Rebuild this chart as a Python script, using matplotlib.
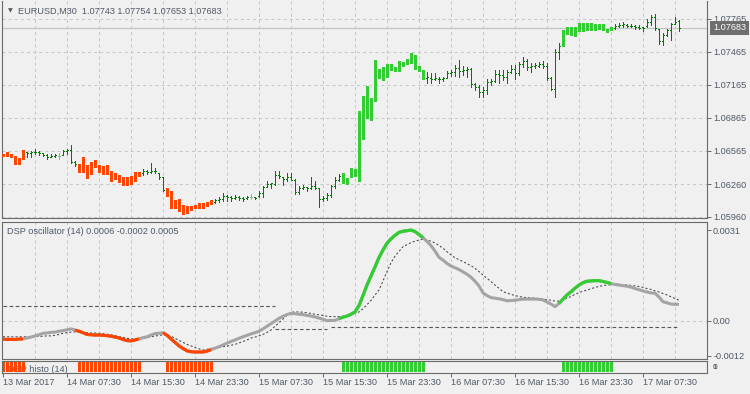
import matplotlib
matplotlib.use("Agg")
import matplotlib.pyplot as plt
from matplotlib.transforms import blended_transform_factory


# =========================
# Data (EURUSD M30)
# =========================

open_ = [
    1.06525, 1.06520, 1.06525, 1.06505, 1.06445, 1.06480, 1.06550, 1.06540, 1.06550, 1.06550,
    1.06540, 1.06525, 1.06510, 1.06520, 1.06515, 1.06525, 1.06560, 1.06570, 1.06465, 1.06440,
    1.06380, 1.06420, 1.06350, 1.06420, 1.06420, 1.06380, 1.06380, 1.06360, 1.06300, 1.06310,
    1.06290, 1.06260, 1.06260, 1.06300, 1.06350, 1.06360, 1.06380, 1.06370, 1.06380, 1.06360,
    1.06320, 1.06210, 1.06150, 1.06080, 1.06060, 1.06030, 1.06000, 1.06030, 1.06040, 1.06050,
    1.06060, 1.06070, 1.06080, 1.06100, 1.06110, 1.06120, 1.06150, 1.06140, 1.06130, 1.06140,
    1.06130, 1.06130, 1.06145, 1.06140, 1.06150, 1.06180, 1.06230, 1.06260, 1.06260, 1.06340,
    1.06325, 1.06310, 1.06320, 1.06300, 1.06190, 1.06220, 1.06230, 1.06220, 1.06240, 1.06220,
    1.06120, 1.06130, 1.06160, 1.06240, 1.06300, 1.06330, 1.06270, 1.06320, 1.06390, 1.06330,
    1.06900, 1.06870, 1.07040, 1.07010, 1.07300, 1.07250, 1.07300, 1.07330, 1.07300, 1.07300,
    1.07350, 1.07360, 1.07380, 1.07400, 1.07320, 1.07300, 1.07230, 1.07230, 1.07220, 1.07220,
    1.07220, 1.07230, 1.07270, 1.07280, 1.07320, 1.07290, 1.07300, 1.07310, 1.07170, 1.07140,
    1.07100, 1.07120, 1.07190, 1.07200, 1.07260, 1.07250, 1.07240, 1.07280, 1.07310, 1.07270,
    1.07350, 1.07380, 1.07330, 1.07340, 1.07340, 1.07350, 1.07340, 1.07230, 1.07130, 1.07460,
    1.07520, 1.07650, 1.07640, 1.07660, 1.07680, 1.07700, 1.07700, 1.07700, 1.07700, 1.07690,
    1.07690, 1.07675, 1.07660, 1.07680, 1.07700, 1.07710, 1.07710, 1.07700, 1.07700, 1.07690,
    1.07690, 1.07700, 1.07740, 1.07780, 1.07670, 1.07560, 1.07620, 1.07660, 1.07720, 1.07743,
]

high = [
    1.06534, 1.06552, 1.06534, 1.06516, 1.06497, 1.06570, 1.06552, 1.06564, 1.06576, 1.06558,
    1.06546, 1.06534, 1.06534, 1.06534, 1.06540, 1.06570, 1.06582, 1.06619, 1.06467, 1.06443,
    1.06504, 1.06437, 1.06461, 1.06479, 1.06437, 1.06424, 1.06431, 1.06376, 1.06358, 1.06339,
    1.06327, 1.06321, 1.06333, 1.06370, 1.06370, 1.06400, 1.06388, 1.06455, 1.06406, 1.06364,
    1.06321, 1.06224, 1.06193, 1.06114, 1.06127, 1.06072, 1.06060, 1.06060, 1.06072, 1.06084,
    1.06084, 1.06096, 1.06114, 1.06127, 1.06139, 1.06175, 1.06163, 1.06151, 1.06157, 1.06151,
    1.06145, 1.06151, 1.06169, 1.06144, 1.06193, 1.06242, 1.06284, 1.06272, 1.06375, 1.06375,
    1.06327, 1.06357, 1.06357, 1.06302, 1.06242, 1.06248, 1.06236, 1.06327, 1.06284, 1.06223,
    1.06150, 1.06181, 1.06248, 1.06327, 1.06351, 1.06357, 1.06315, 1.06406, 1.06400, 1.06929,
    1.07062, 1.07154, 1.07044, 1.07391, 1.07306, 1.07324, 1.07354, 1.07354, 1.07324, 1.07379,
    1.07373, 1.07403, 1.07452, 1.07433, 1.07336, 1.07300, 1.07285, 1.07270, 1.07270, 1.07233,
    1.07233, 1.07294, 1.07300, 1.07346, 1.07391, 1.07336, 1.07330, 1.07315, 1.07184, 1.07160,
    1.07142, 1.07215, 1.07215, 1.07300, 1.07300, 1.07300, 1.07300, 1.07346, 1.07346, 1.07376,
    1.07422, 1.07397, 1.07367, 1.07361, 1.07376, 1.07385, 1.07361, 1.07239, 1.07488, 1.07543,
    1.07664, 1.07689, 1.07695, 1.07695, 1.07725, 1.07725, 1.07725, 1.07725, 1.07719, 1.07719,
    1.07719, 1.07677, 1.07695, 1.07719, 1.07725, 1.07737, 1.07719, 1.07719, 1.07713, 1.07707,
    1.07695, 1.07762, 1.07798, 1.07810, 1.07677, 1.07640, 1.07677, 1.07731, 1.07780, 1.07754,
]

low = [
    1.06510, 1.06510, 1.06500, 1.06437, 1.06437, 1.06479, 1.06510, 1.06504, 1.06534, 1.06522,
    1.06516, 1.06485, 1.06504, 1.06504, 1.06491, 1.06522, 1.06534, 1.06455, 1.06424, 1.06358,
    1.06358, 1.06309, 1.06339, 1.06406, 1.06364, 1.06339, 1.06345, 1.06279, 1.06297, 1.06273,
    1.06242, 1.06242, 1.06254, 1.06279, 1.06321, 1.06345, 1.06352, 1.06364, 1.06358, 1.06309,
    1.06199, 1.06139, 1.06029, 1.06029, 1.06005, 1.05981, 1.05987, 1.06017, 1.06029, 1.06029,
    1.06035, 1.06054, 1.06066, 1.06090, 1.06096, 1.06108, 1.06108, 1.06108, 1.06121, 1.06114,
    1.06102, 1.06121, 1.06120, 1.06120, 1.06144, 1.06144, 1.06230, 1.06223, 1.06254, 1.06315,
    1.06254, 1.06290, 1.06296, 1.06169, 1.06169, 1.06211, 1.06193, 1.06211, 1.06211, 1.06053,
    1.06108, 1.06114, 1.06144, 1.06223, 1.06290, 1.06260, 1.06254, 1.06315, 1.06321, 1.06278,
    1.06661, 1.06856, 1.06838, 1.07008, 1.07221, 1.07202, 1.07227, 1.07287, 1.07281, 1.07281,
    1.07330, 1.07348, 1.07354, 1.07300, 1.07281, 1.07208, 1.07178, 1.07178, 1.07209, 1.07185,
    1.07203, 1.07224, 1.07245, 1.07245, 1.07233, 1.07254, 1.07233, 1.07142, 1.07118, 1.07057,
    1.07051, 1.07081, 1.07163, 1.07194, 1.07178, 1.07209, 1.07178, 1.07270, 1.07215, 1.07254,
    1.07330, 1.07300, 1.07285, 1.07315, 1.07324, 1.07315, 1.07209, 1.07118, 1.07057, 1.07397,
    1.07506, 1.07619, 1.07610, 1.07604, 1.07646, 1.07646, 1.07652, 1.07652, 1.07658, 1.07664,
    1.07652, 1.07634, 1.07658, 1.07677, 1.07695, 1.07695, 1.07689, 1.07695, 1.07677, 1.07677,
    1.07652, 1.07695, 1.07713, 1.07664, 1.07537, 1.07525, 1.07610, 1.07573, 1.07719, 1.07653,
]

close = [
    1.06520, 1.06525, 1.06505, 1.06445, 1.06480, 1.06550, 1.06540, 1.06550, 1.06555, 1.06540,
    1.06525, 1.06510, 1.06520, 1.06525, 1.06515, 1.06560, 1.06570, 1.06465, 1.06440, 1.06380,
    1.06420, 1.06350, 1.06420, 1.06420, 1.06380, 1.06380, 1.06360, 1.06300, 1.06310, 1.06290,
    1.06260, 1.06260, 1.06300, 1.06350, 1.06360, 1.06380, 1.06370, 1.06380, 1.06375, 1.06320,
    1.06210, 1.06150, 1.06080, 1.06060, 1.06030, 1.06000, 1.06030, 1.06040, 1.06050, 1.06060,
    1.06070, 1.06080, 1.06100, 1.06110, 1.06120, 1.06150, 1.06140, 1.06130, 1.06140, 1.06130,
    1.06125, 1.06140, 1.06145, 1.06135, 1.06180, 1.06230, 1.06260, 1.06265, 1.06340, 1.06330,
    1.06310, 1.06320, 1.06300, 1.06190, 1.06220, 1.06230, 1.06220, 1.06240, 1.06220, 1.06120,
    1.06130, 1.06160, 1.06240, 1.06300, 1.06330, 1.06270, 1.06300, 1.06390, 1.06330, 1.06900,
    1.06700, 1.07100, 1.07000, 1.07300, 1.07250, 1.07300, 1.07330, 1.07300, 1.07300, 1.07350,
    1.07360, 1.07380, 1.07400, 1.07320, 1.07300, 1.07230, 1.07235, 1.07220, 1.07225, 1.07215,
    1.07225, 1.07270, 1.07280, 1.07320, 1.07290, 1.07300, 1.07310, 1.07170, 1.07140, 1.07100,
    1.07120, 1.07190, 1.07200, 1.07260, 1.07250, 1.07240, 1.07280, 1.07310, 1.07270, 1.07350,
    1.07380, 1.07330, 1.07340, 1.07345, 1.07350, 1.07340, 1.07230, 1.07130, 1.07460, 1.07520,
    1.07650, 1.07640, 1.07660, 1.07680, 1.07700, 1.07700, 1.07700, 1.07700, 1.07690, 1.07690,
    1.07680, 1.07660, 1.07680, 1.07700, 1.07710, 1.07715, 1.07700, 1.07705, 1.07690, 1.07685,
    1.07680, 1.07740, 1.07780, 1.07680, 1.07560, 1.07620, 1.07660, 1.07720, 1.07740, 1.07683,
]

# bars drawn in grey on the price chart
neutral_bars = [14, 62]

# DSP oscillator (14) and its signal line
dsp_osc = [
    -0.00063, -0.00064, -0.00064, -0.00064, -0.00063, -0.00062, -0.00059, -0.00056, -0.00052, -0.00048,
    -0.00043, -0.00042, -0.00040, -0.00039, -0.00036, -0.00034, -0.00031, -0.00028, -0.00032, -0.00036,
    -0.00041, -0.00047, -0.00048, -0.00049, -0.00049, -0.00050, -0.00051, -0.00053, -0.00056, -0.00059,
    -0.00064, -0.00068, -0.00069, -0.00066, -0.00062, -0.00058, -0.00055, -0.00049, -0.00044, -0.00043,
    -0.00041, -0.00050, -0.00062, -0.00074, -0.00086, -0.00095, -0.00103, -0.00106, -0.00107, -0.00107,
    -0.00107, -0.00104, -0.00099, -0.00094, -0.00089, -0.00083, -0.00077, -0.00071, -0.00066, -0.00060,
    -0.00055, -0.00050, -0.00045, -0.00041, -0.00036, -0.00028, -0.00019, -0.00010, -0.00001, 0.00008,
    0.00015, 0.00021, 0.00025, 0.00024, 0.00022, 0.00021, 0.00018, 0.00016, 0.00013, 0.00009,
    0.00005, 0.00000, 0.00001, 0.00001, 0.00007, 0.00012, 0.00016, 0.00022, 0.00030, 0.00052,
    0.00086, 0.00122, 0.00153, 0.00184, 0.00216, 0.00242, 0.00265, 0.00280, 0.00292, 0.00302,
    0.00306, 0.00308, 0.00310, 0.00305, 0.00295, 0.00284, 0.00271, 0.00257, 0.00238, 0.00217,
    0.00207, 0.00196, 0.00187, 0.00181, 0.00175, 0.00167, 0.00159, 0.00149, 0.00135, 0.00119,
    0.00095, 0.00086, 0.00079, 0.00077, 0.00075, 0.00072, 0.00068, 0.00069, 0.00070, 0.00072,
    0.00074, 0.00074, 0.00074, 0.00074, 0.00073, 0.00071, 0.00064, 0.00057, 0.00048, 0.00059,
    0.00074, 0.00088, 0.00099, 0.00111, 0.00122, 0.00130, 0.00135, 0.00136, 0.00137, 0.00137,
    0.00134, 0.00131, 0.00127, 0.00124, 0.00122, 0.00120, 0.00118, 0.00115, 0.00110, 0.00106,
    0.00102, 0.00098, 0.00095, 0.00094, 0.00081, 0.00065, 0.00061, 0.00057, 0.00056, 0.00056,
]

dsp_signal = [
    -0.00055, -0.00055, -0.00055, -0.00055, -0.00055, -0.00055, -0.00055, -0.00055, -0.00054, -0.00054,
    -0.00053, -0.00052, -0.00052, -0.00050, -0.00047, -0.00043, -0.00041, -0.00039, -0.00038, -0.00039,
    -0.00040, -0.00041, -0.00042, -0.00042, -0.00043, -0.00044, -0.00046, -0.00048, -0.00051, -0.00054,
    -0.00057, -0.00060, -0.00062, -0.00063, -0.00063, -0.00060, -0.00058, -0.00055, -0.00053, -0.00050,
    -0.00049, -0.00047, -0.00053, -0.00060, -0.00067, -0.00074, -0.00081, -0.00086, -0.00092, -0.00096,
    -0.00100, -0.00098, -0.00095, -0.00093, -0.00091, -0.00089, -0.00087, -0.00084, -0.00081, -0.00076,
    -0.00071, -0.00066, -0.00059, -0.00056, -0.00052, -0.00047, -0.00040, -0.00032, -0.00019, -0.00007,
    0.00006, 0.00019, 0.00029, 0.00030, 0.00030, 0.00029, 0.00027, 0.00025, 0.00022, 0.00020,
    0.00018, 0.00015, 0.00014, 0.00014, 0.00014, 0.00015, 0.00018, 0.00021, 0.00025, 0.00030,
    0.00041, 0.00055, 0.00069, 0.00088, 0.00105, 0.00136, 0.00168, 0.00198, 0.00221, 0.00237,
    0.00253, 0.00260, 0.00267, 0.00272, 0.00276, 0.00279, 0.00276, 0.00272, 0.00266, 0.00257,
    0.00248, 0.00236, 0.00225, 0.00215, 0.00209, 0.00202, 0.00195, 0.00188, 0.00179, 0.00168,
    0.00156, 0.00145, 0.00134, 0.00122, 0.00111, 0.00099, 0.00095, 0.00090, 0.00086, 0.00083,
    0.00080, 0.00079, 0.00078, 0.00077, 0.00076, 0.00074, 0.00072, 0.00070, 0.00067, 0.00067,
    0.00072, 0.00077, 0.00083, 0.00090, 0.00096, 0.00101, 0.00105, 0.00109, 0.00114, 0.00117,
    0.00120, 0.00122, 0.00123, 0.00125, 0.00125, 0.00123, 0.00122, 0.00121, 0.00119, 0.00117,
    0.00114, 0.00110, 0.00107, 0.00102, 0.00098, 0.00093, 0.00088, 0.00082, 0.00076, 0.00070,
]

# level lines: (first bar, last bar, value)
dsp_levels = [
    (0, 68, 0.0005),
    (68, 81, -0.00028),
    (82, 169, -0.0002),
]

# trend blocks shown by DSP histo (14) and the bar colouring
trend_blocks = [
    (0, 5, "down"),
    (19, 34, "down"),
    (41, 52, "down"),
    (85, 105, "up"),
    (140, 152, "up"),
]

price_ticks = [1.07765, 1.07465, 1.07165, 1.06865, 1.06565, 1.06260, 1.05960]
osc_ticks = [0.0031, 0.0, -0.0012]
osc_tick_labels = ["0.0031", "0.00", "-0.0012"]

time_tick_bars = [0, 16, 32, 48, 64, 80, 96, 112, 128, 144, 160]
time_tick_labels = [
    "13 Mar 2017", "14 Mar 07:30", "14 Mar 15:30", "14 Mar 23:30",
    "15 Mar 07:30", "15 Mar 15:30", "15 Mar 23:30", "16 Mar 07:30",
    "16 Mar 15:30", "16 Mar 23:30", "17 Mar 07:30",
]

title_main = "EURUSD,M30  1.07743 1.07754 1.07653 1.07683"
title_osc = "DSP oscillator (14) 0.0006 -0.0002 0.0005"
title_hist = "DSP histo (14)"


# =========================
# Style
# =========================

W, H = 750, 394
BG = "#f0f0f0"
GRID = "#c8c8c8"
FRAME = "#6a6a6a"
TEXT = "#4f5966"
RED = "#ff4500"
LIME = "#32cd32"
BAR_GREEN = "#007a00"
BAR_GREY = "#a8a8a8"
OSC_GREY = "#a4a4a4"

block_color = {"down": RED, "up": LIME}

plt.rcParams["font.family"] = ["Liberation Sans", "DejaVu Sans"]
plt.rcParams["font.size"] = 6.6
plt.rcParams["lines.scale_dashes"] = False

fig = plt.figure(figsize=(W / 100, H / 100), dpi=100, facecolor=BG)


def px_box(x0, y0, x1, y1):
    return [x0 / W, 1 - y1 / H, (x1 - x0) / W, (y1 - y0) / H]


ax_main = fig.add_axes(px_box(2, 0.5, 707, 217.7))
ax_osc = fig.add_axes(px_box(2, 222, 707, 359.3))
ax_hist = fig.add_axes(px_box(2, 361, 707, 372.7))

n = len(close)
bars = list(range(n))

for ax in (ax_main, ax_osc, ax_hist):
    ax.set_facecolor(BG)
    ax.set_xlim(-0.25, 176)
    for sp in ax.spines.values():
        sp.set_color(FRAME)
        sp.set_linewidth(0.8)
    ax.tick_params(axis="both", colors=FRAME, labelcolor=TEXT,
                   length=2.9, width=0.7, pad=1.5, labelsize=6.6)
    ax.tick_params(axis="x", bottom=False, labelbottom=False)
    ax.yaxis.tick_right()

ax_main.spines["top"].set_visible(False)

# vertical grid every 8 bars
for ax in (ax_main, ax_osc):
    for g in range(8, 176, 8):
        ax.axvline(g, color=GRID, lw=0.75, dashes=(2.2, 2.2), zorder=0)


# =========================
# Price panel
# =========================

ax_main.set_ylim(1.05953, 1.07933)
ax_main.set_yticks(price_ticks)
ax_main.set_yticklabels([f"{p:.5f}" for p in price_ticks])
for p in price_ticks:
    ax_main.axhline(p, color=GRID, lw=0.75, dashes=(2.2, 2.2), zorder=0)

# last price line
ax_main.axhline(close[-1], color="#c4c4c4", lw=0.9, zorder=0.5)

colored = {}
for start, end, kind in trend_blocks:
    for i in range(start, end + 1):
        colored[i] = block_color[kind]

col_x = [i for i in bars if i in colored]
ax_main.bar(
    col_x,
    [high[i] - low[i] for i in col_x],
    bottom=[low[i] for i in col_x],
    width=0.75,
    color=[colored[i] for i in col_x],
    linewidth=0,
    zorder=3,
)

thin_x = [i for i in bars if i not in colored]
thin_c = [BAR_GREY if i in neutral_bars else BAR_GREEN for i in thin_x]
ax_main.vlines(thin_x, [low[i] for i in thin_x], [high[i] for i in thin_x],
               colors=thin_c, lw=0.72, zorder=3, antialiased=False)
ax_main.hlines([open_[i] for i in thin_x], [i - 0.3 for i in thin_x], thin_x,
               colors=thin_c, lw=0.72, zorder=3, antialiased=False)
ax_main.hlines([close[i] for i in thin_x], thin_x, [i + 0.3 for i in thin_x],
               colors=thin_c, lw=0.72, zorder=3, antialiased=False)

# current price box on the scale
blend = blended_transform_factory(ax_main.transAxes, ax_main.transData)
ax_main.text(1.0085, close[-1], f"{close[-1]:.5f}", transform=blend,
             color="white", va="center", ha="left", fontsize=6.6, zorder=5,
             bbox=dict(boxstyle="square,pad=0.28", fc="#6e6e6e", ec="none"))

fig.text(8 / W, 1 - 11 / H, "\u25bc", fontsize=4.5, color="#5a5a5a",
         va="center", ha="left", family="DejaVu Sans")
fig.text(18 / W, 1 - 11 / H, title_main, color=TEXT, va="center", ha="left")


# =========================
# DSP oscillator panel
# =========================

ax_osc.set_ylim(-0.00132, 0.003376)
ax_osc.set_yticks(osc_ticks)
ax_osc.set_yticklabels(osc_tick_labels)
ax_osc.axhline(0.0, color=GRID, lw=0.75, dashes=(2.2, 2.2), zorder=0)

for start, end, value in dsp_levels:
    ax_osc.plot([start, end], [value, value], color="#555555", lw=0.8,
                dashes=(2.6, 1.8), zorder=1)

ax_osc.plot(bars, dsp_signal, color="#454545", lw=0.75, dashes=(1.5, 1.5), zorder=2)

ax_osc.plot(bars, dsp_osc, color=OSC_GREY, lw=2.2, solid_capstyle="butt",
            solid_joinstyle="round", zorder=3)
for start, end, kind in trend_blocks:
    s = max(start - 1, 0)
    ax_osc.plot(bars[s:end + 1], dsp_osc[s:end + 1], color=block_color[kind],
                lw=2.3, solid_capstyle="butt", solid_joinstyle="round", zorder=4)

fig.text(7 / W, 1 - 231 / H, title_osc, color=TEXT, va="center", ha="left")


# =========================
# DSP histo panel
# =========================

ax_hist.set_ylim(-0.07, 1.1)
ax_hist.set_yticks([])
ax_hist.text(6 / 705, 0.25, title_hist, transform=ax_hist.transAxes,
             color=TEXT, va="center", ha="left", zorder=0.5)

for start, end, kind in trend_blocks:
    xs = list(range(start, end + 1))
    ax_hist.bar(xs, [1] * len(xs), bottom=0, width=0.75,
                color=block_color[kind], linewidth=0, zorder=2)

ax_hist.text(1.008, 0.45, "1", transform=ax_hist.transAxes, color=TEXT,
             fontsize=6, va="center", ha="left")
ax_hist.text(1.008, 0.45, "0", transform=ax_hist.transAxes, color=TEXT,
             fontsize=6, va="center", ha="left")

ax_hist.tick_params(axis="x", bottom=True, labelbottom=True, length=2.9, pad=1.2)
ax_hist.set_xticks(time_tick_bars)
ax_hist.set_xticklabels(time_tick_labels)
for lbl in ax_hist.get_xticklabels():
    lbl.set_ha("left")

fig.savefig("out.png", dpi=100, facecolor=BG)
